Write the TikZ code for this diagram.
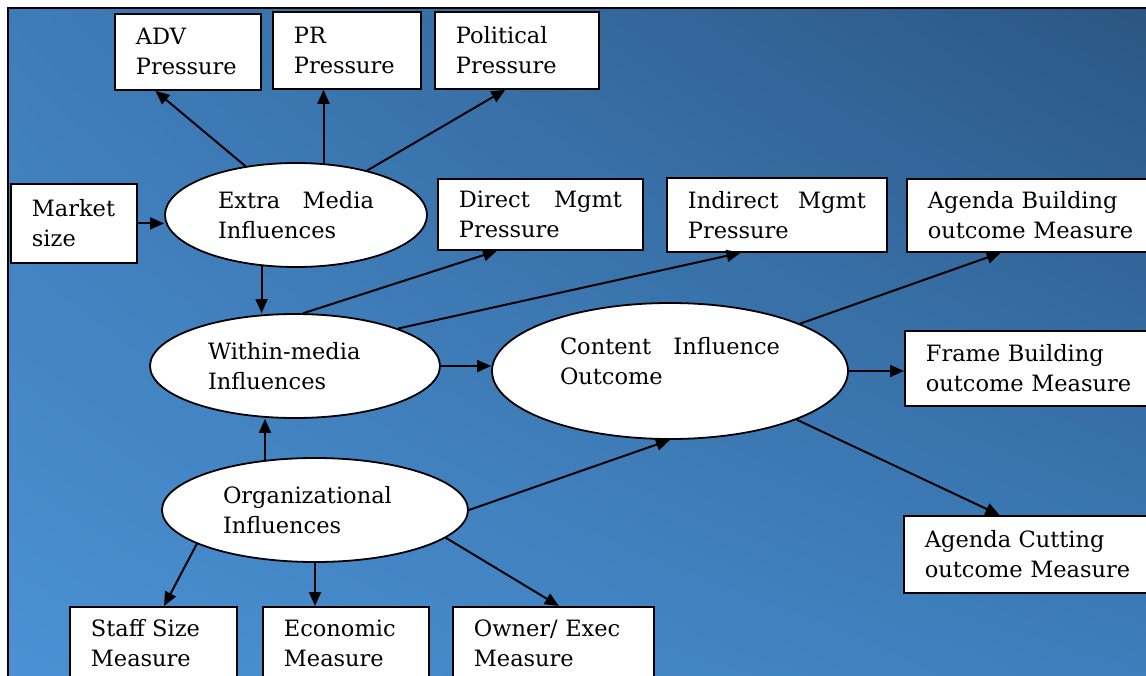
\documentclass[tikz,border=0pt]{standalone}
\usepackage{fontspec}
\setmainfont{DejaVu Serif}
\usetikzlibrary{shapes.geometric,arrows.meta,calc,shadings}
\definecolor{bgTR}{HTML}{2B5683}
\definecolor{bgBL}{HTML}{4B91D3}
\definecolor{bgTL}{HTML}{3E7CB8}
\definecolor{bgBR}{HTML}{3D7EBC}
\begin{document}
\begin{tikzpicture}[x=1pt,y=-1pt,
  box/.style={draw=black, line width=1.8pt, fill=white, rectangle, inner xsep=21pt, inner ysep=0pt, align=left, font=\fontsize{22.5}{30}\selectfont, anchor=north west},
  oval/.style={draw=black, line width=1.8pt, fill=white, ellipse, inner sep=0pt, font=\fontsize{22.5}{30}\selectfont},
  arr/.style={line width=2pt, -{Triangle[length=14pt,width=12pt]}}]
\useasboundingbox (0,0) rectangle (1146,675);
\clip (0,0) rectangle (1146,675);
\fill[white] (0,0) rectangle (1146,675);
\shade[upper left=bgTL, upper right=bgTR, lower left=bgBL, lower right=bgBR] (8,8) rectangle (1150,680);
\draw[line width=2.2pt] (8,680) -- (8,8) -- (1150,8);

% boxes
\node[box, text width=104pt, minimum height=76pt] (adv) at (114,13) {ADV\\Pressure};
\node[box, text width=106pt, minimum height=77pt] (pr) at (272,11) {PR\\Pressure};
\node[box, text width=122pt, minimum height=77pt] (pol) at (434,11) {Political\\Pressure};
\node[box, text width=84pt, minimum height=79pt] (market) at (10,183) {Market\\size};
\node[box, text width=163pt, minimum height=71pt] (direct) at (437,178) {Direct\hfill Mgmt\\Pressure};
\node[box, text width=178pt, minimum height=74pt] (indirect) at (666,177) {Indirect\hfill Mgmt\\Pressure};
\node[box, text width=208pt, minimum height=73pt] (abuild) at (906,178) {Agenda Building\\outcome Measure};
\node[box, text width=208pt, minimum height=75pt] (frame) at (904,330) {Frame Building\\outcome Measure};
\node[box, text width=208pt, minimum height=77pt] (acut) at (903,515) {Agenda Cutting\\outcome Measure};
\node[box, text width=125pt, minimum height=73pt] (staff) at (69,606) {Staff Size\\Measure};
\node[box, text width=124pt, minimum height=73pt] (econ) at (262,606) {Economic\\Measure};
\node[box, text width=159pt, minimum height=73pt] (owner) at (452,606) {Owner/ Exec\\Measure};

% ellipses
\node[oval, minimum width=262pt, minimum height=104pt] (extra) at (296,215)
  {\parbox{156pt}{\raggedright Extra\hfill Media\\Influences}};
\node[oval, minimum width=290pt, minimum height=104pt] (within) at (295,366)
  {\parbox{174pt}{\raggedright Within-media\\Influences}};
\node[oval, minimum width=356pt, minimum height=136pt] (content) at (670,371)
  {\parbox{220pt}{\raggedright Content\hfill Influence\\Outcome\par\vspace*{20pt}}};
\node[oval, minimum width=306pt, minimum height=104pt] (org) at (315,510)
  {\parbox{184pt}{\raggedright Organizational\\Influences}};

% connectors
\draw[arr] (extra.136) -- ($(adv.south west)!0.28!(adv.south east)$);
\draw[arr] (extra.62) -- (extra.62 |- pr.south);
\draw[arr] (extra.32) -- ($(pol.south west)!0.43!(pol.south east)$);
\draw[arr] (market.east) -- (market.east -| extra.west);
\draw[arr] (extra.236) -- (extra.236 |- within.north);
\draw[arr] (within.81) -- ($(direct.south west)!0.29!(direct.south east)$);
\draw[arr] (within.20) -- ($(indirect.south west)!0.336!(indirect.south east)$);
\draw[arr] (within.east) -- (within.east -| content.west);
\draw[arr] (org.135) -- (org.135 |- within.south);
\draw[arr] (org.east) -- (content.south);
\draw[arr] (content.20) -- ($(abuild.south west)!0.376!(abuild.south east)$);
\draw[arr] (content.east) -- (content.east -| frame.west);
\draw[arr] (content.-21) -- ($(acut.north west)!0.383!(acut.north east)$);
\draw[arr] (org.196) -- ($(staff.north west)!0.563!(staff.north east)$);
\draw[arr] (org.south) -- (org.south |- econ.north);
\draw[arr] (org.-12) -- ($(owner.north west)!0.527!(owner.north east)$);
\end{tikzpicture}
\end{document}
